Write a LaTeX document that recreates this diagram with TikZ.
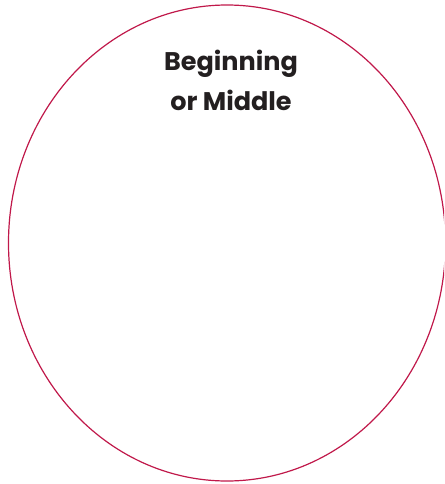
\documentclass[tikz,border=0pt]{standalone}
\usepackage{fontspec}
\setmainfont{Poppins}
\definecolor{ring}{HTML}{C0184A}
\definecolor{txt}{HTML}{231F20}
\begin{document}
\begin{tikzpicture}[x=1pt,y=-1pt,
  ringline/.style={draw=ring,line width=1.2pt},
  titletext/.style={text=txt,align=center,font=\fontsize{25.5}{40}\selectfont\bfseries}]
\useasboundingbox (0,0) rectangle (444,484);
\begin{scope}
\clip (0,0) rectangle (444,484);
\draw[ringline] (227,243) ellipse [x radius=218.5, y radius=238];
\end{scope}
\node[titletext] (title) at (231,80) {Beginning\\or Middle};
\end{tikzpicture}
\end{document}
